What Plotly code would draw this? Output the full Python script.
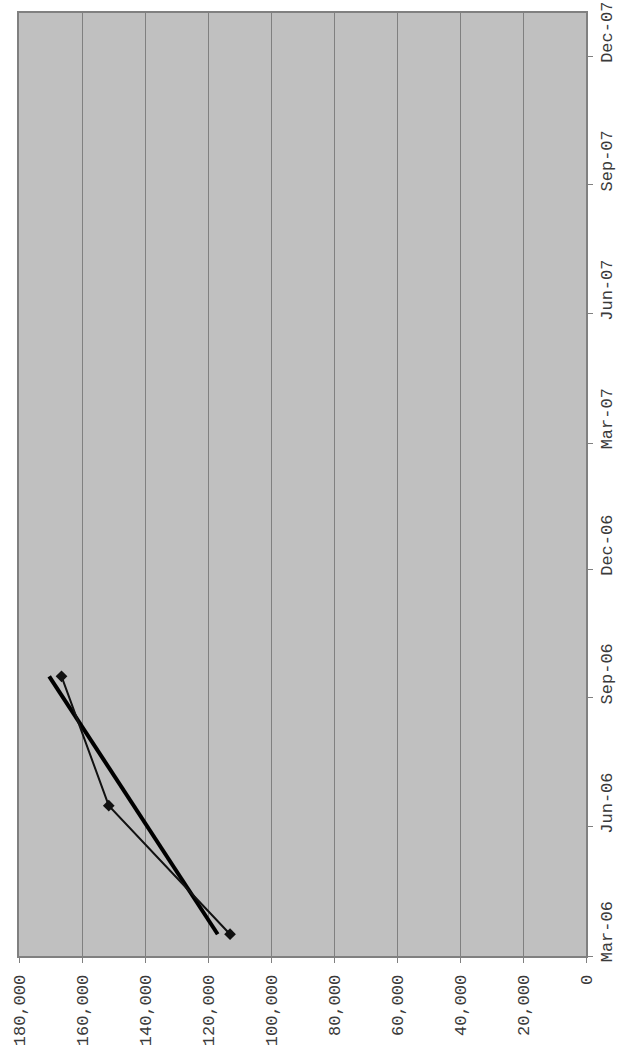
import numpy as np
import pandas as pd
import plotly.graph_objects as go

# Quarterly observations
months = ["2006-03", "2006-06", "2006-09"]
values = [113000, 151500, 166500]

# Axis labelling
value_ticks = [0, 20000, 40000, 60000, 80000, 100000, 120000, 140000, 160000, 180000]
month_ticks = ["2006-03", "2006-06", "2006-09", "2006-12",
               "2007-03", "2007-06", "2007-09", "2007-12"]
month_labels = ["Mar-06", "Jun-06", "Sep-06", "Dec-06",
                "Mar-07", "Jun-07", "Sep-07", "Dec-07"]

# Each month occupies one unit on the date axis; marks sit in the middle of it
def mid_month(m):
    start = pd.Timestamp(m + "-01")
    end = start + pd.offsets.MonthBegin(1)
    return start + (end - start) / 2

obs_dates = [mid_month(m) for m in months]

# Linear trend fitted through the observations
idx = np.arange(len(values))
slope, intercept = np.polyfit(idx, values, 1)
trend = [intercept + slope * i for i in idx]

font = dict(family="Liberation Mono, Courier New, monospace", size=17, color="#3a3a3a")

fig = go.Figure()
fig.add_trace(go.Scatter(
    x=trend, y=obs_dates, mode="lines",
    line=dict(color="black", width=4), hoverinfo="skip", showlegend=False,
))
fig.add_trace(go.Scatter(
    x=values, y=obs_dates, mode="lines+markers",
    line=dict(color="#111111", width=2),
    marker=dict(symbol="diamond", size=9, color="#111111"),
    showlegend=False,
))

fig.update_layout(
    width=617, height=1051,
    margin=dict(l=19, r=31, t=13, b=95),
    paper_bgcolor="white", plot_bgcolor="#C0C0C0",
    font=font,
)
fig.update_xaxes(
    range=[180000, 0], tickvals=value_ticks,
    ticktext=[f"{v:,}" for v in value_ticks],
    tickangle=-90, ticks="outside", ticklen=5, tickcolor="#808080",
    ticklabelstandoff=5,
    showgrid=True, gridcolor="#808080", gridwidth=1,
    showline=True, linecolor="#808080", linewidth=2, mirror=True,
    zeroline=False, tickfont=font, automargin=False,
)
fig.update_yaxes(
    type="date", side="right",
    range=["2006-03-01", "2008-01-01"],
    tickvals=[mid_month(m) for m in month_ticks], ticktext=month_labels,
    tickangle=-90, ticks="", showgrid=False, ticklabelstandoff=4,
    minor=dict(tickvals=[pd.Timestamp(m + "-01") for m in month_ticks],
               ticks="outside", ticklen=5, tickcolor="#808080", showgrid=False),
    showline=True, linecolor="#808080", linewidth=2, mirror=True,
    zeroline=False, tickfont=font, automargin=False,
)

fig.write_html("out.html")
